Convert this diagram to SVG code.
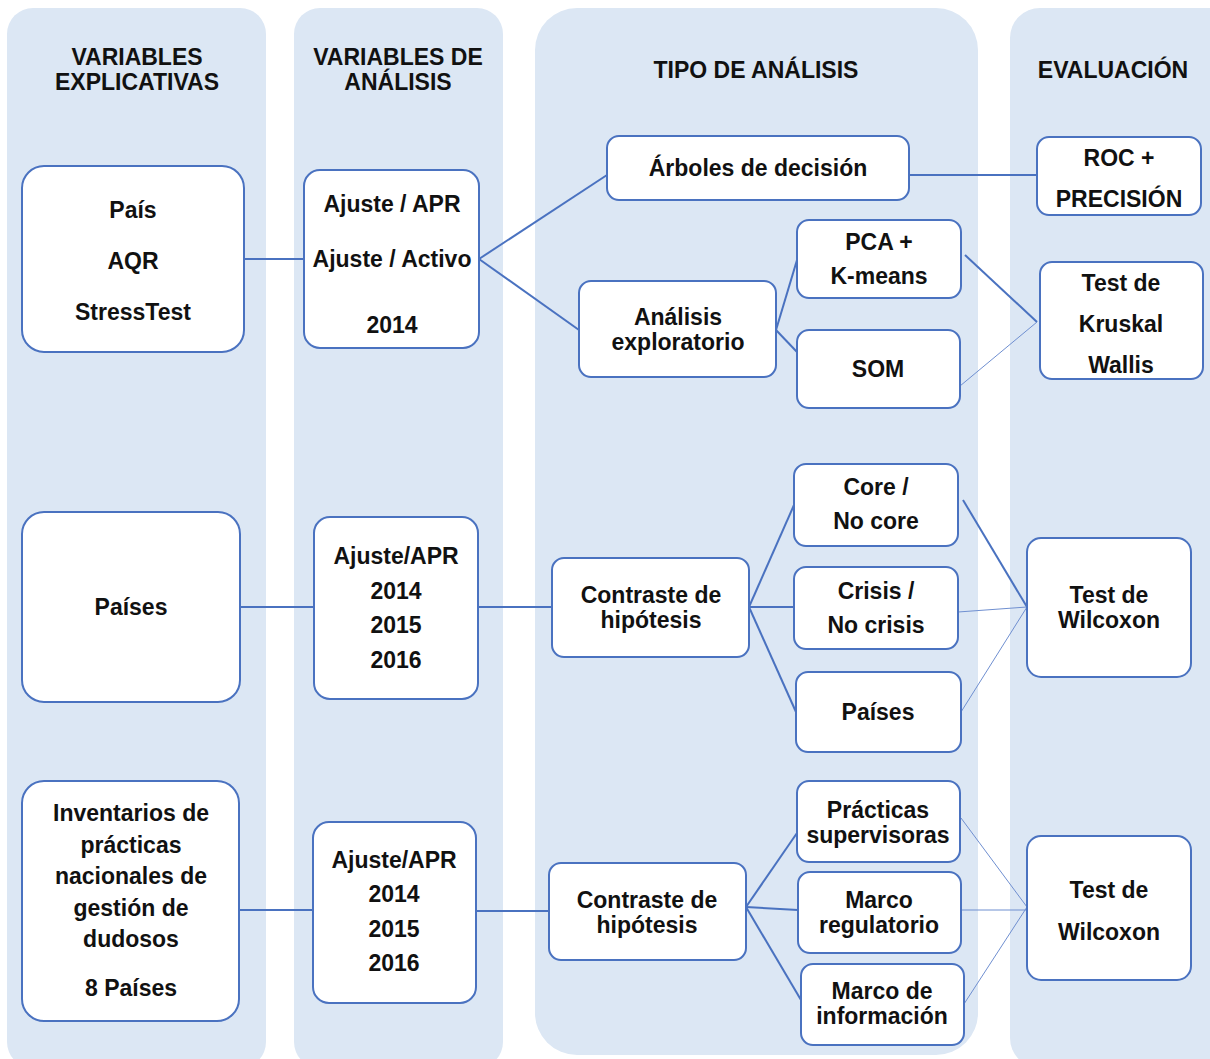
<svg xmlns="http://www.w3.org/2000/svg" width="1210" height="1059" viewBox="0 0 1210 1059">
<style>
.col{fill:#dce7f4;stroke:none}
.box{fill:#ffffff;stroke:#4a72c0;stroke-width:2}
.t{font-family:"Liberation Sans",Arial,sans-serif;font-weight:bold;font-size:23px;fill:#111;text-anchor:middle}
.h{font-family:"Liberation Sans",Arial,sans-serif;font-weight:bold;font-size:23px;fill:#111;text-anchor:middle}
.c{stroke:#4a72c0;stroke-width:2;fill:none}
.cl{stroke:#6f8fd0;stroke-width:1;fill:none}
</style>
<rect width="1210" height="1059" fill="#ffffff"/>
<g id="columns">
<rect class="col" x="7" y="8" width="259" height="1060" rx="26"/>
<rect class="col" x="294" y="8" width="209" height="1060" rx="26"/>
<rect class="col" x="535" y="8" width="443" height="1047" rx="42"/>
<rect class="col" x="1010" y="8" width="230" height="1060" rx="30"/>
</g>
<g id="headers">
<text class="h" x="137" y="65">VARIABLES</text>
<text class="h" x="137" y="90">EXPLICATIVAS</text>
<text class="h" x="398" y="65">VARIABLES DE</text>
<text class="h" x="398" y="90">ANÁLISIS</text>
<text class="h" x="756" y="78">TIPO DE ANÁLISIS</text>
<text class="h" x="1113" y="78">EVALUACIÓN</text>
</g>
<g id="connectors">
<line class="c" x1="241" y1="259" x2="304" y2="259"/>
<line class="c" x1="479" y1="259" x2="607" y2="175"/>
<line class="c" x1="479" y1="259" x2="579" y2="330"/>
<line class="c" x1="909" y1="175" x2="1037" y2="175"/>
<line class="c" x1="776" y1="330" x2="797" y2="260"/>
<line class="c" x1="776" y1="330" x2="797" y2="352"/>
<line class="c" x1="965" y1="255" x2="1037" y2="322"/>
<line class="cl" x1="960" y1="386" x2="1037" y2="322"/>
<line class="c" x1="240" y1="607" x2="314" y2="607"/>
<line class="c" x1="478" y1="607" x2="552" y2="607"/>
<line class="c" x1="749" y1="607" x2="794" y2="505"/>
<line class="c" x1="749" y1="607" x2="794" y2="607"/>
<line class="c" x1="749" y1="607" x2="796" y2="712"/>
<line class="c" x1="963" y1="500" x2="1027" y2="607"/>
<line class="cl" x1="958" y1="612" x2="1027" y2="607"/>
<line class="cl" x1="961" y1="712" x2="1027" y2="607"/>
<line class="c" x1="239" y1="910" x2="313" y2="910"/>
<line class="c" x1="476" y1="911" x2="549" y2="911"/>
<line class="c" x1="746" y1="907" x2="797" y2="833"/>
<line class="c" x1="746" y1="907" x2="798" y2="910"/>
<line class="c" x1="746" y1="907" x2="801" y2="1000"/>
<line class="cl" x1="961" y1="818" x2="1027" y2="907"/>
<line class="cl" x1="961" y1="910" x2="1027" y2="910"/>
<line class="cl" x1="964" y1="1004" x2="1027" y2="907"/>
</g>
<g id="n-explicativas1">
<rect class="box" x="22" y="166" width="222" height="186" rx="22"/>
<text class="t" x="133" y="218">País</text>
<text class="t" x="133" y="269">AQR</text>
<text class="t" x="133" y="320">StressTest</text>
</g>
<g id="n-analisis1">
<rect class="box" x="304" y="170" width="175" height="178" rx="16"/>
<text class="t" x="392" y="212">Ajuste / APR</text>
<text class="t" x="392" y="267">Ajuste / Activo</text>
<text class="t" x="392" y="333">2014</text>
</g>
<g id="n-arboles">
<rect class="box" x="607" y="136" width="302" height="64" rx="12"/>
<text class="t" x="758" y="176">Árboles de decisión</text>
</g>
<g id="n-roc">
<rect class="box" x="1037" y="137" width="164" height="78" rx="12"/>
<text class="t" x="1119" y="166">ROC   +</text>
<text class="t" x="1119" y="207">PRECISIÓN</text>
</g>
<g id="n-exploratorio">
<rect class="box" x="579" y="281" width="197" height="96" rx="12"/>
<text class="t" x="678" y="325">Análisis</text>
<text class="t" x="678" y="350">exploratorio</text>
</g>
<g id="n-pca">
<rect class="box" x="797" y="220" width="164" height="78" rx="12"/>
<text class="t" x="879" y="250">PCA +</text>
<text class="t" x="879" y="284">K-means</text>
</g>
<g id="n-som">
<rect class="box" x="797" y="330" width="163" height="78" rx="12"/>
<text class="t" x="878" y="377">SOM</text>
</g>
<g id="n-kruskal">
<rect class="box" x="1040" y="262" width="163" height="117" rx="12"/>
<text class="t" x="1121" y="291">Test de</text>
<text class="t" x="1121" y="332">Kruskal</text>
<text class="t" x="1121" y="373">Wallis</text>
</g>
<g id="n-paises">
<rect class="box" x="22" y="512" width="218" height="190" rx="22"/>
<text class="t" x="131" y="615">Países</text>
</g>
<g id="n-analisis2">
<rect class="box" x="314" y="517" width="164" height="182" rx="16"/>
<text class="t" x="396" y="564">Ajuste/APR</text>
<text class="t" x="396" y="599">2014</text>
<text class="t" x="396" y="633">2015</text>
<text class="t" x="396" y="668">2016</text>
</g>
<g id="n-contraste1">
<rect class="box" x="552" y="558" width="197" height="99" rx="12"/>
<text class="t" x="651" y="603">Contraste de</text>
<text class="t" x="651" y="628">hipótesis</text>
</g>
<g id="n-core">
<rect class="box" x="794" y="464" width="164" height="82" rx="12"/>
<text class="t" x="876" y="495">Core /</text>
<text class="t" x="876" y="529">No core</text>
</g>
<g id="n-crisis">
<rect class="box" x="794" y="567" width="164" height="82" rx="12"/>
<text class="t" x="876" y="599">Crisis /</text>
<text class="t" x="876" y="633">No crisis</text>
</g>
<g id="n-paises2">
<rect class="box" x="796" y="672" width="165" height="80" rx="12"/>
<text class="t" x="878" y="720">Países</text>
</g>
<g id="n-wilcoxon1">
<rect class="box" x="1027" y="538" width="164" height="139" rx="14"/>
<text class="t" x="1109" y="603">Test de</text>
<text class="t" x="1109" y="628">Wilcoxon</text>
</g>
<g id="n-inventarios">
<rect class="box" x="22" y="781" width="217" height="240" rx="22"/>
<text class="t" x="131" y="821">Inventarios de</text>
<text class="t" x="131" y="853">prácticas</text>
<text class="t" x="131" y="884">nacionales de</text>
<text class="t" x="131" y="916">gestión de</text>
<text class="t" x="131" y="947">dudosos</text>
<text class="t" x="131" y="996">8 Países</text>
</g>
<g id="n-analisis3">
<rect class="box" x="313" y="822" width="163" height="181" rx="16"/>
<text class="t" x="394" y="868">Ajuste/APR</text>
<text class="t" x="394" y="902">2014</text>
<text class="t" x="394" y="937">2015</text>
<text class="t" x="394" y="971">2016</text>
</g>
<g id="n-contraste2">
<rect class="box" x="549" y="863" width="197" height="97" rx="12"/>
<text class="t" x="647" y="908">Contraste de</text>
<text class="t" x="647" y="933">hipótesis</text>
</g>
<g id="n-practicas">
<rect class="box" x="797" y="781" width="163" height="81" rx="12"/>
<text class="t" x="878" y="818">Prácticas</text>
<text class="t" x="878" y="843">supervisoras</text>
</g>
<g id="n-regulatorio">
<rect class="box" x="798" y="872" width="163" height="81" rx="12"/>
<text class="t" x="879" y="908">Marco</text>
<text class="t" x="879" y="933">regulatorio</text>
</g>
<g id="n-informacion">
<rect class="box" x="801" y="964" width="163" height="81" rx="12"/>
<text class="t" x="882" y="999">Marco de</text>
<text class="t" x="882" y="1024">información</text>
</g>
<g id="n-wilcoxon2">
<rect class="box" x="1027" y="836" width="164" height="144" rx="14"/>
<text class="t" x="1109" y="898">Test de</text>
<text class="t" x="1109" y="940">Wilcoxon</text>
</g>
</svg>
